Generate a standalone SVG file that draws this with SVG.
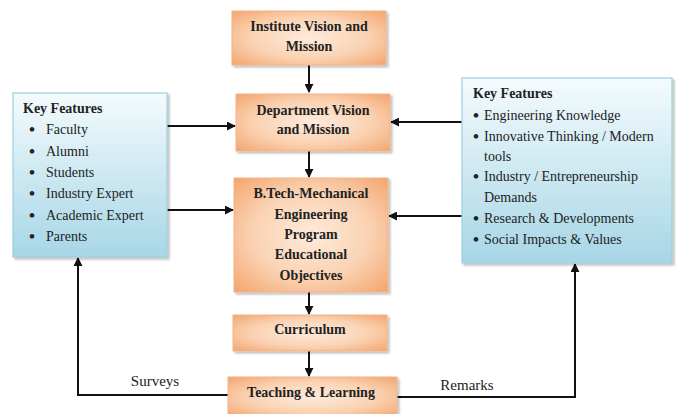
<svg xmlns="http://www.w3.org/2000/svg" width="683" height="414" viewBox="0 0 683 414">
  <defs>
    <radialGradient id="orange" cx="50%" cy="50%" r="70%">
      <stop offset="0" stop-color="#fdebdc"/>
      <stop offset="0.55" stop-color="#fad2b2"/>
      <stop offset="1" stop-color="#f3a56e"/>
    </radialGradient>
    <linearGradient id="blue" x1="0" y1="0" x2="0" y2="1">
      <stop offset="0" stop-color="#f4fbfd"/>
      <stop offset="1" stop-color="#a7d6e6"/>
    </linearGradient>
    <filter id="shadow" x="-10%" y="-10%" width="125%" height="130%">
      <feDropShadow dx="2" dy="2" stdDeviation="1.2" flood-color="#000" flood-opacity="0.25"/>
    </filter>
    <marker id="arrow" viewBox="0 0 10 10" refX="9" refY="5" markerWidth="4.5" markerHeight="4.5" orient="auto-start-reverse">
      <path d="M0,0 L10,5 L0,10 z" fill="#111"/>
    </marker>
  </defs>
  <style>
    .obox { fill: url(#orange); stroke: #f0b58a; stroke-width: 1; filter: url(#shadow); }
    .bbox { fill: url(#blue); stroke: #9ccfe0; stroke-width: 1.2; filter: url(#shadow); }
    .title { font-family: "Liberation Serif", "Times New Roman", serif; font-weight: bold; font-size: 14px; fill: #222; text-anchor: middle; }
    .item { font-family: "Liberation Serif", "Times New Roman", serif; font-size: 14px; fill: #222; }
    .bullet { font-family: "Liberation Serif", "Times New Roman", serif; font-size: 17px; font-weight: bold; fill: #222; }
    .head { font-family: "Liberation Serif", "Times New Roman", serif; font-weight: bold; font-size: 14px; fill: #222; }
    .label { font-family: "Liberation Serif", "Times New Roman", serif; font-size: 15px; fill: #222; text-anchor: middle; }
    .conn { fill: none; stroke: #111; stroke-width: 2; }
  </style>
  <rect width="683" height="414" fill="#ffffff"/>

  <g id="connectors">
    <line class="conn" x1="309" y1="65" x2="309" y2="92" marker-end="url(#arrow)"/>
    <line class="conn" x1="309" y1="151" x2="309" y2="177" marker-end="url(#arrow)"/>
    <line class="conn" x1="309" y1="292" x2="309" y2="314" marker-end="url(#arrow)"/>
    <line class="conn" x1="309" y1="351" x2="309" y2="376" marker-end="url(#arrow)"/>
    <line class="conn" x1="167" y1="126" x2="235" y2="126" marker-end="url(#arrow)"/>
    <line class="conn" x1="167" y1="210" x2="233" y2="210" marker-end="url(#arrow)"/>
    <line class="conn" x1="462" y1="122" x2="391" y2="122" marker-end="url(#arrow)"/>
    <line class="conn" x1="462" y1="216" x2="389" y2="216" marker-end="url(#arrow)"/>
    <polyline class="conn" points="228,395 78,395 78,258" marker-end="url(#arrow)"/>
    <polyline class="conn" points="397,397 575,397 575,264" marker-end="url(#arrow)"/>
    <text class="label" x="155" y="386">Surveys</text>
    <text class="label" x="467" y="390">Remarks</text>
  </g>

  <g id="institute">
    <rect class="obox" x="232" y="11" width="154" height="54"/>
    <text class="title" x="309" y="31">Institute Vision and</text>
    <text class="title" x="309" y="51">Mission</text>
  </g>

  <g id="department">
    <rect class="obox" x="236" y="94" width="154" height="57"/>
    <text class="title" x="313" y="115">Department Vision</text>
    <text class="title" x="313" y="134">and Mission</text>
  </g>

  <g id="peo">
    <rect class="obox" x="234" y="178" width="154" height="114"/>
    <text class="title" x="311" y="198">B.Tech-Mechanical</text>
    <text class="title" x="311" y="219">Engineering</text>
    <text class="title" x="311" y="239">Program</text>
    <text class="title" x="311" y="259">Educational</text>
    <text class="title" x="311" y="280">Objectives</text>
  </g>

  <g id="curriculum">
    <rect class="obox" x="233" y="315" width="154" height="36"/>
    <text class="title" x="310" y="334">Curriculum</text>
  </g>

  <g id="teaching">
    <rect class="obox" x="228" y="377" width="169" height="40"/>
    <text class="title" x="311" y="397">Teaching &amp; Learning</text>
  </g>

  <g id="stakeholders">
    <rect class="bbox" x="13" y="93" width="154" height="164"/>
    <text class="head" x="23" y="113">Key Features</text>
    <g class="bullet">
      <text x="29" y="135">•</text>
      <text x="29" y="157">•</text>
      <text x="29" y="178">•</text>
      <text x="29" y="199">•</text>
      <text x="29" y="221">•</text>
      <text x="29" y="242">•</text>
    </g>
    <g class="item">
      <text x="46" y="134">Faculty</text>
      <text x="46" y="156">Alumni</text>
      <text x="46" y="177">Students</text>
      <text x="46" y="198">Industry Expert</text>
      <text x="46" y="220">Academic Expert</text>
      <text x="46" y="241">Parents</text>
    </g>
  </g>

  <g id="attributes">
    <rect class="bbox" x="462" y="78" width="210" height="185"/>
    <text class="head" x="473" y="98">Key Features</text>
    <g class="bullet">
      <text x="473" y="121">•</text>
      <text x="473" y="142">•</text>
      <text x="473" y="182">•</text>
      <text x="473" y="224">•</text>
      <text x="473" y="245">•</text>
    </g>
    <g class="item">
      <text x="484" y="120">Engineering Knowledge</text>
      <text x="484" y="141">Innovative Thinking / Modern</text>
      <text x="484" y="161">tools</text>
      <text x="484" y="181">Industry / Entrepreneurship</text>
      <text x="484" y="202">Demands</text>
      <text x="484" y="223">Research &amp; Developments</text>
      <text x="484" y="244">Social Impacts &amp; Values</text>
    </g>
  </g>
</svg>
